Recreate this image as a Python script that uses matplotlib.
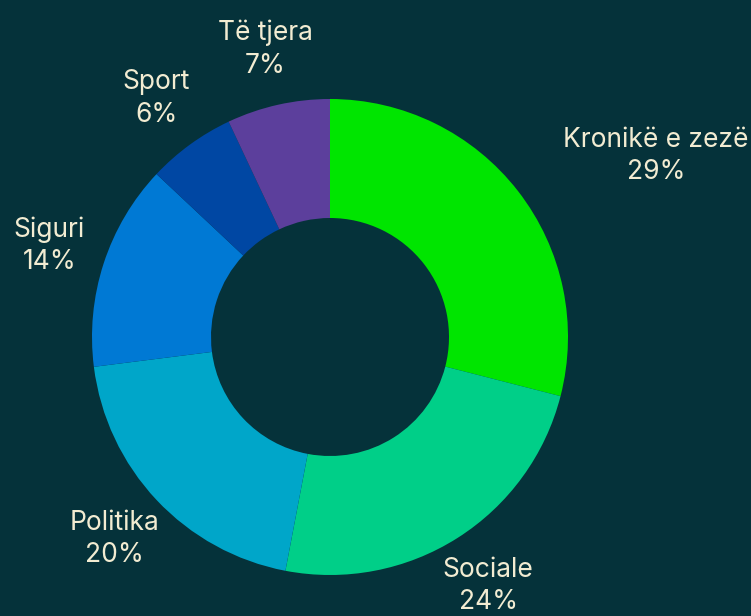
import numpy as np
import matplotlib.pyplot as plt

# data
categories = ["Kronikë e zezë", "Sociale", "Politika", "Siguri", "Sport", "Të tjera"]
values = [29, 24, 20, 14, 6, 7]
colors = ["#00e500", "#00cf88", "#00a6c9", "#0079d4", "#0047a3", "#5c3f9c"]

bg = "#05323a"
txt = "#f2ecd2"

plt.rcParams['font.family'] = ['Inter', 'DejaVu Sans']

fig = plt.figure(figsize=(7.51, 6.16), dpi=100, facecolor=bg)
ax = fig.add_axes([0, 0, 1, 1])
ax.set_facecolor(bg)

wedges, _ = ax.pie(values, colors=colors, startangle=90, counterclock=False,
                   radius=1.0, wedgeprops=dict(width=0.5, linewidth=0))

# labels just outside each wedge
for w, cat, v in zip(wedges, categories, values):
    mid = np.deg2rad((w.theta1 + w.theta2) / 2)
    r = 1.24
    x, y = r * np.cos(mid), r * np.sin(mid)
    ha = 'left' if cat == "Kronikë e zezë" else 'center'
    ax.text(x, y, f"{cat}\n{v}%", ha=ha, va='center', color=txt,
            fontsize=19, linespacing=1.33, multialignment='center')

# center at (330, 337) px, radius 238 px
ax.set_xlim(-330 / 238, (751 - 330) / 238)
ax.set_ylim(-(616 - 337) / 238, 337 / 238)
ax.set_aspect('equal')
ax.axis('off')

fig.savefig("out.png", dpi=100, facecolor=bg)
